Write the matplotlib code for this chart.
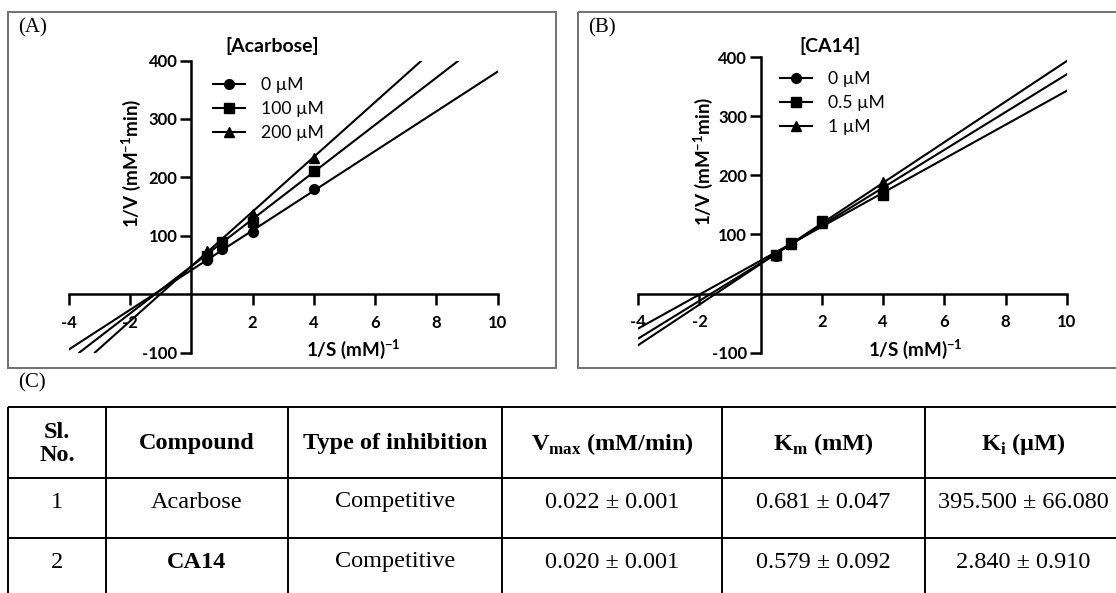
import matplotlib
matplotlib.use("Agg")
import matplotlib.pyplot as plt
from matplotlib.patches import Rectangle
from matplotlib.lines import Line2D

W, H = 1116, 593  # output size in px

# Lineweaver-Burk data, x = 1/S (mM^-1), y = 1/V (mM^-1 min)
inv_s = [0.5, 1, 2, 4]

acarbose_conc = ["0 µM", "100 µM", "200 µM"]
acarbose_inv_v = [
    [58, 78, 107, 180],
    [66, 89, 123, 210],
    [73, 87, 138, 233],
]
acarbose_slope = [34.0, 40.4, 46.9]
acarbose_icept = [41.0, 47.5, 47.4]

ca14_conc = ["0 µM", "0.5 µM", "1 µM"]
ca14_inv_v = [
    [63, 83, 121, 174],
    [65, 85, 122, 167],
    [66, 84, 120, 188],
]
ca14_slope = [28.7, 31.9, 34.3]
ca14_icept = [55.8, 51.6, 50.1]

x_ticks = [-4, -2, 2, 4, 6, 8, 10]
y_ticks = [-100, 100, 200, 300, 400]

# table (C)
col_heads = ["Sl.\nNo.", "Compound", "Type of inhibition",
             r"V$_{\mathbf{max}}$ (mM/min)", r"K$_{\mathbf{m}}$ (mM)", r"K$_{\mathbf{i}}$ (µM)"]
sl_no = ["1", "2"]
compounds = ["Acarbose", "CA14"]
inhibition = ["Competitive", "Competitive"]
vmax = [0.022, 0.020]
vmax_sd = [0.001, 0.001]
km = [0.681, 0.579]
km_sd = [0.047, 0.092]
ki = [395.5, 2.84]
ki_sd = [66.08, 0.91]

markers = ["o", "s", "^"]

plt.rcParams["font.family"] = "Lato"
plt.rcParams["font.weight"] = "bold"
plt.rcParams["axes.unicode_minus"] = False
plt.rcParams["mathtext.fontset"] = "custom"
plt.rcParams["mathtext.rm"] = "Lato:bold"
plt.rcParams["mathtext.bf"] = "Liberation Serif:bold"

fig = plt.figure(figsize=(W / 100, H / 100), dpi=100)

# background axes in pixel units, for frames, labels and the table
bg = fig.add_axes([0, 0, 1, 1])
bg.set_xlim(0, W)
bg.set_ylim(H, 0)
bg.axis("off")
bg.patch.set_visible(False)

bg.add_patch(Rectangle((8, 12), 548, 356, fill=False, ec="#707070", lw=1.4))
bg.add_patch(Rectangle((578, 12), 545, 356, fill=False, ec="#707070", lw=1.4))

serif = "Liberation Serif"
for lab, x, y in [("(A)", 18, 28), ("(B)", 588, 28), ("(C)", 18, 383)]:
    bg.text(x, y, lab, family=serif, weight="normal", fontsize=15, ha="left", va="center")


def panel(rect, conc, inv_v, slopes, icepts, title, title_xy, leg_xy, xlab_xy, ylab_xy):
    ax = fig.add_axes([rect[0] / W, 1 - rect[3] / H, (rect[2] - rect[0]) / W, (rect[3] - rect[1]) / H])
    ax.set_facecolor("none")
    for yv, m, b, mk in zip(inv_v, slopes, icepts, markers):
        ax.axline((0, b), slope=m, color="k", lw=1.5)
        ax.plot(inv_s, yv, marker=mk, ms=7, ls="none", color="k", clip_on=False)
    ax.set_xlim(-4, 10)
    ax.set_ylim(-100, 400)
    ax.spines[["top", "right"]].set_visible(False)
    ax.spines["left"].set_position(("data", 0))
    ax.spines["bottom"].set_position(("data", 0))
    for s in ["left", "bottom"]:
        ax.spines[s].set_linewidth(1.8)
    ax.set_xticks(x_ticks)
    ax.set_yticks(y_ticks)
    ax.tick_params(direction="out", length=8, width=1.8, labelsize=12)
    ax.tick_params(axis="x", pad=7)
    ax.tick_params(axis="y", pad=2)

    handles = [Line2D([], [], color="k", lw=1.5, marker=mk, ms=7) for mk in markers]
    ax.legend(handles, conc, loc="upper left", bbox_to_anchor=(leg_xy[0] / W, 1 - leg_xy[1] / H),
              bbox_transform=fig.transFigure, frameon=False, borderpad=0, borderaxespad=0,
              handlelength=1.8, handletextpad=0.9, labelspacing=0.45,
              prop=dict(family="Lato", weight="normal", size=12.7))
    bg.text(title_xy[0], title_xy[1], title, fontsize=14, ha="center", va="center")
    bg.text(xlab_xy[0], xlab_xy[1], r"1/S (mM)$^{\mathrm{-1}}$", fontsize=13.5, ha="center", va="center")
    bg.text(ylab_xy[0], ylab_xy[1], r"1/V (mM$^{\mathrm{-1}}$min)", fontsize=13.5, ha="center",
            va="center", rotation=90)
    return ax


panel((68.7, 60.5, 497.7, 352.5), acarbose_conc, acarbose_inv_v, acarbose_slope, acarbose_icept,
      "[Acarbose]", (272, 46), (213, 77), (353, 349), (131, 163))
panel((638.3, 57, 1066.7, 352.7), ca14_conc, ca14_inv_v, ca14_slope, ca14_icept,
      "[CA14]", (830, 46), (780, 71), (915, 349), (703, 161))

# table
col_x = [8, 106, 288, 502, 722, 925, 1122]
row_y = [406.7, 478.3, 537.7, 598]
for x in col_x:
    bg.plot([x, x], [row_y[0], row_y[-1]], color="k", lw=1.4, solid_capstyle="butt")
for y in row_y:
    bg.plot([col_x[0], col_x[-1]], [y, y], color="k", lw=1.4, solid_capstyle="butt")

centers = [(a + b) / 2 for a, b in zip(col_x[:-1], col_x[1:])]
for cx, head in zip(centers, col_heads):
    bg.text(cx, 444, head, family=serif, weight="bold", fontsize=17.5, ha="center", va="center",
            linespacing=1.1)

row_text_y = [502, 562]
for i, ty in enumerate(row_text_y):
    cells = [sl_no[i], compounds[i], inhibition[i],
             f"{vmax[i]:.3f} ± {vmax_sd[i]:.3f}",
             f"{km[i]:.3f} ± {km_sd[i]:.3f}",
             f"{ki[i]:.3f} ± {ki_sd[i]:.3f}"]
    for j, (cx, txt) in enumerate(zip(centers, cells)):
        w = "bold" if (j == 1 and txt == "CA14") else "normal"
        bg.text(cx, ty, txt, family=serif, weight=w, fontsize=17.5, ha="center", va="center")

fig.savefig("out.png", dpi=100)
